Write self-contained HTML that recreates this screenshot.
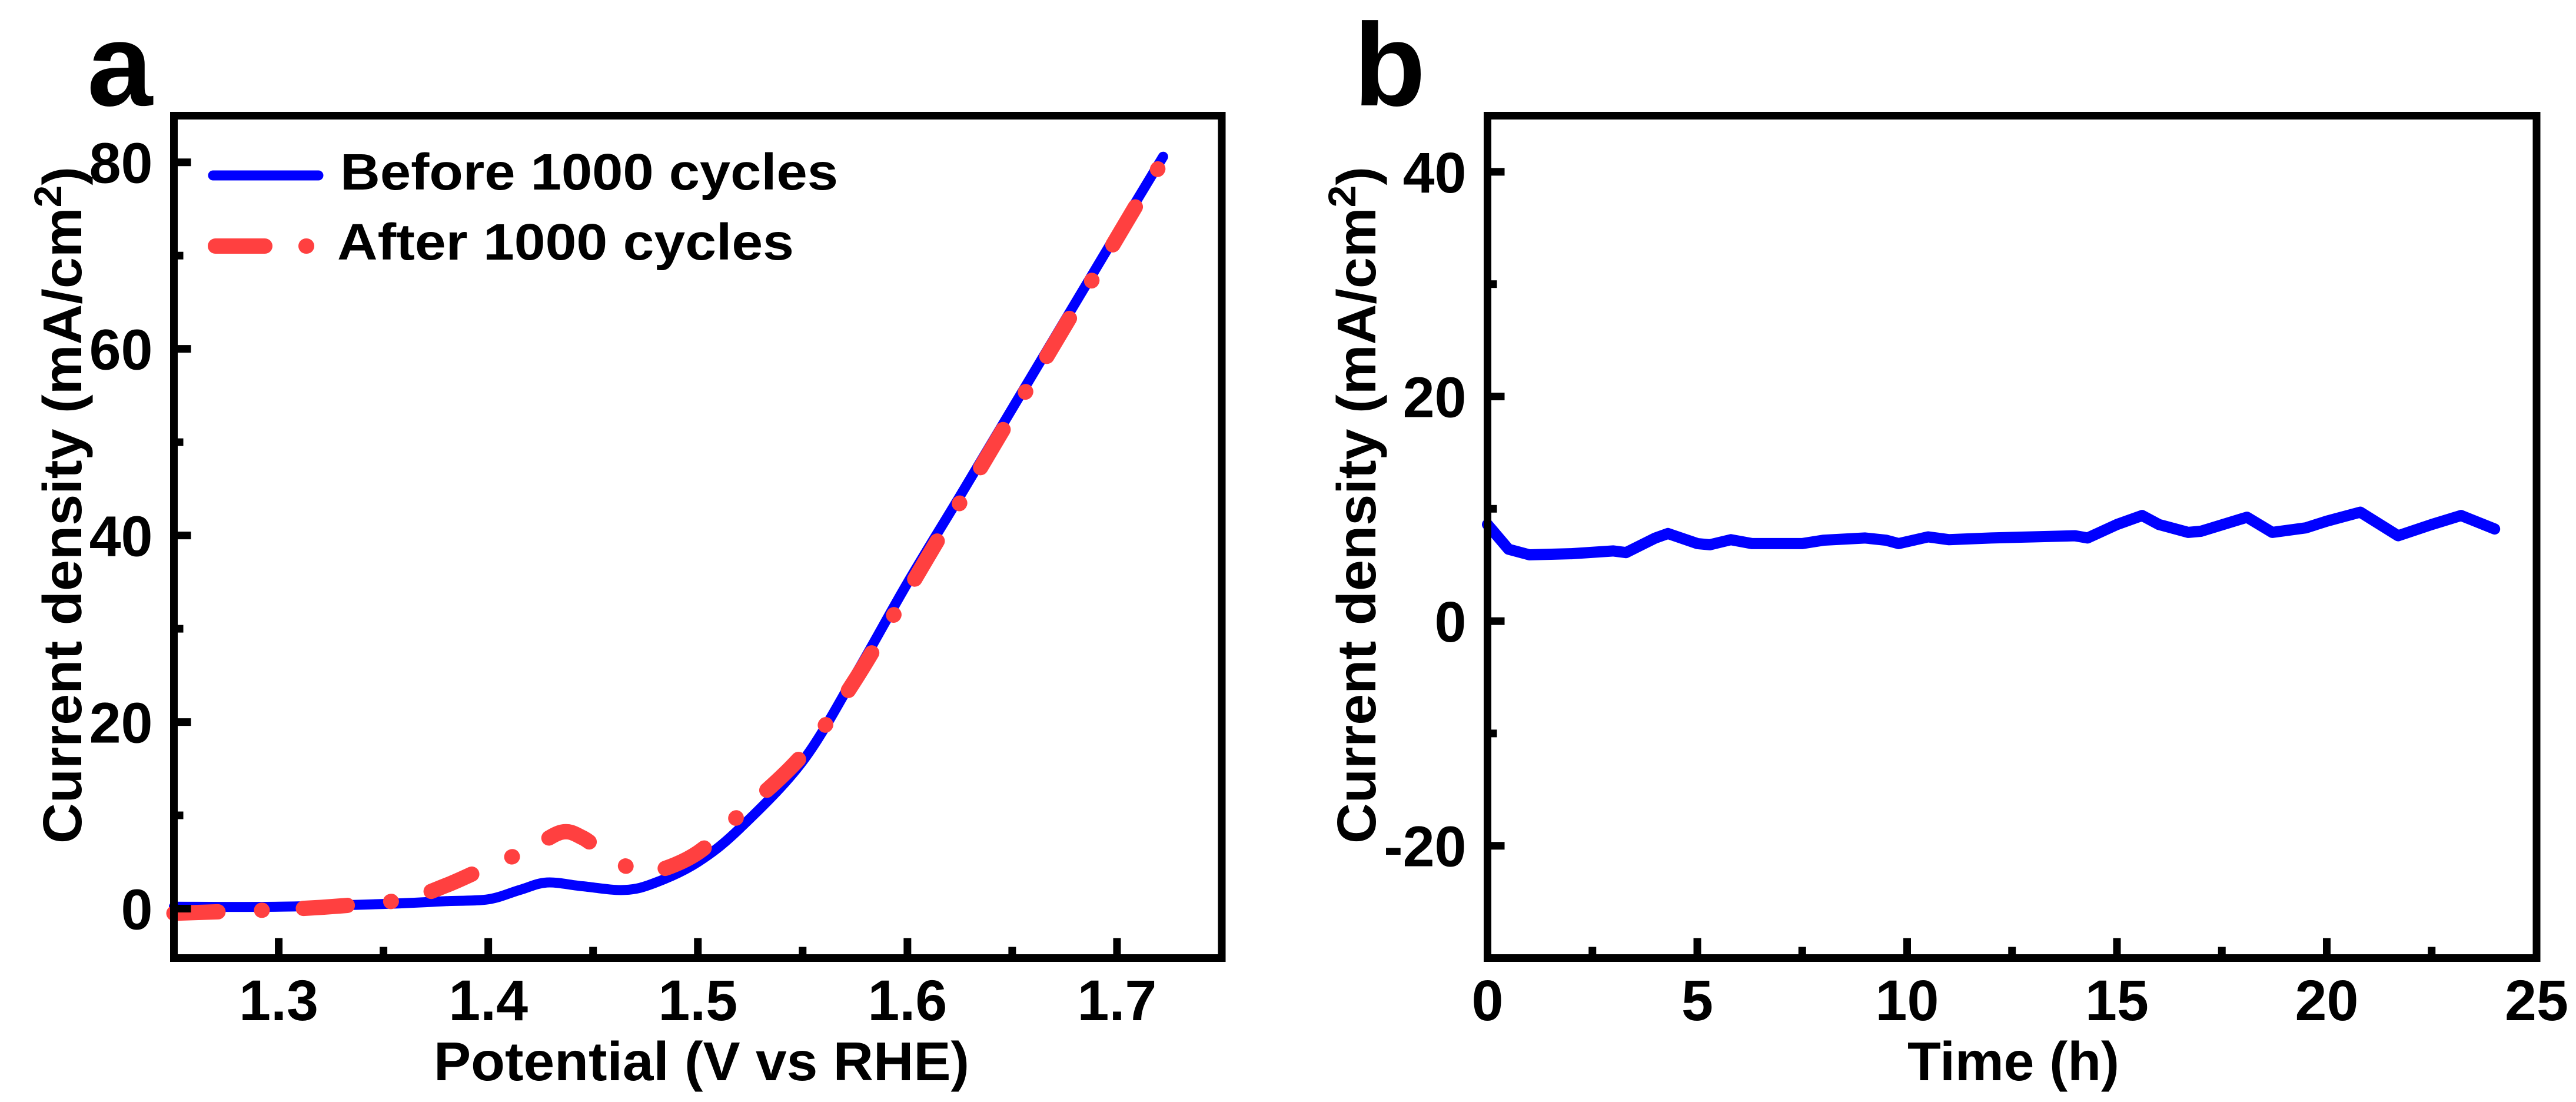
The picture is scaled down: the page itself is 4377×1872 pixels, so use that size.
<!DOCTYPE html>
<html><head><meta charset="utf-8"><style>
html,body{margin:0;padding:0;background:#fff;}
svg{display:block;font-family:"Liberation Sans",Arial,sans-serif;font-weight:bold;}
</style></head><body>
<svg id="chart" width="4377" height="1872" viewBox="0 0 4377 1872" xmlns="http://www.w3.org/2000/svg">
<g id="pa"></g>
<g id="pb"></g>
</svg>
<script>
// Panel a data
const aBeforeV = [1.25,1.30,1.35,1.38,1.40,1.415,1.428,1.445,1.465,1.48,1.50,1.52,1.55,1.575,1.60,1.625,1.65,1.675,1.70,1.722];
const aBeforeJ = [0.2,0.2,0.5,0.8,1.0,2.0,2.8,2.4,2.0,2.8,5.0,8.6,15.8,25.0,34.9,44.2,53.6,63.0,72.4,80.6];
const aAfterV = [1.25,1.30,1.33,1.36,1.38,1.40,1.42,1.435,1.445,1.455,1.47,1.48,1.50,1.52,1.55,1.575,1.60,1.625,1.65,1.675,1.70,1.72];
const aAfterJ = [-0.5,-0.1,0.3,1.0,2.5,4.5,6.4,8.2,7.6,6.0,4.1,4.0,6.0,10.1,16.5,24.5,34.0,43.5,53.0,62.4,71.9,79.5];
const aXTicks = [1.3,1.4,1.5,1.6,1.7];
const aXTickLabels = ["1.3","1.4","1.5","1.6","1.7"];
const aYTicks = [0,20,40,60,80];
const aYTickLabels = ["0","20","40","60","80"];
// Panel b data
const bT = [0,0.5,1,2,3,3.3,4,4.3,5,5.3,5.8,6.3,7.5,8,9,9.5,9.8,10.5,11,12,13,14,14.3,15,15.6,16,16.7,17,18.1,18.7,19.5,20,20.8,21.7,22.5,23.2,24];
const bJ = [8.6,6.4,5.9,6.0,6.25,6.1,7.4,7.8,6.9,6.8,7.25,6.9,6.9,7.2,7.4,7.2,6.9,7.5,7.25,7.4,7.5,7.6,7.4,8.6,9.4,8.6,7.9,8.0,9.25,7.9,8.3,8.9,9.7,7.6,8.6,9.4,8.2];
const bXTicks = [0,5,10,15,20,25];
const bXTickLabels = ["0","5","10","15","20","25"];
const bYTicks = [-20,0,20,40];
const bYTickLabels = ["-20","0","20","40"];

const NS="http://www.w3.org/2000/svg";
function mk(parent,tag,attrs,text){const e=document.createElementNS(NS,tag);for(const k in attrs)e.setAttribute(k,attrs[k]);if(text!==undefined)e.textContent=text;parent.appendChild(e);return e;}

function smoothPath(pts){
  let d="M"+pts[0][0].toFixed(1)+" "+pts[0][1].toFixed(1);
  for(let i=0;i<pts.length-1;i++){
    const p0=pts[Math.max(0,i-1)],p1=pts[i],p2=pts[i+1],p3=pts[Math.min(pts.length-1,i+2)];
    const c1x=p1[0]+(p2[0]-p0[0])/6,c1y=p1[1]+(p2[1]-p0[1])/6;
    const c2x=p2[0]-(p3[0]-p1[0])/6,c2y=p2[1]-(p3[1]-p1[1])/6;
    d+="C"+c1x.toFixed(1)+" "+c1y.toFixed(1)+" "+c2x.toFixed(1)+" "+c2y.toFixed(1)+" "+p2[0].toFixed(1)+" "+p2[1].toFixed(1);
  }
  return d;
}

function panel(g,cfg){
  const L=cfg.L,R=cfg.R,T=196.5,B=1627.5;
  const sx=v=>L+(v-cfg.x0)/(cfg.x1-cfg.x0)*(R-L);
  const sy=v=>B-(v-cfg.y0)/(cfg.y1-cfg.y0)*(B-T);
  cfg.series.forEach(s=>{
    const pts=s.x.map((v,i)=>[sx(v),sy(s.y[i])]);
    let d;
    if(s.smooth)d=smoothPath(pts);
    else{d="";pts.forEach((p,i)=>{d+=(i?"L":"M")+p[0].toFixed(1)+" "+p[1].toFixed(1);});}
    const p=mk(g,"path",{d:d,fill:"none",stroke:s.color,"stroke-width":s.w,"stroke-linecap":"round","stroke-linejoin":"round"});
    if(s.dash)p.setAttribute("stroke-dasharray",s.dash);
    
    
  });
  const f=mk(g,"rect",{x:L,y:T,width:R-L,height:B-T,fill:"none",stroke:"#000","stroke-width":13});
  
  
  cfg.xt.forEach((v,i)=>{
    const x=sx(v);
    const t=mk(g,"line",{x1:x,x2:x,y1:B,y2:B-34,stroke:"#000","stroke-width":13});
    
    
    const lb=mk(g,"text",{x:x,y:1733,"text-anchor":"middle","font-size":97},cfg.xl[i]);
    
    
    if(i<cfg.xt.length-1){
      const xm=sx((v+cfg.xt[i+1])/2);
      const m=mk(g,"line",{x1:xm,x2:xm,y1:B,y2:B-19,stroke:"#000","stroke-width":13});
      
      
    }
  });
  cfg.yt.forEach((v,i)=>{
    const y=sy(v);
    const t=mk(g,"line",{x1:L,x2:L+29,y1:y,y2:y,stroke:"#000","stroke-width":13});
    
    
    const lb=mk(g,"text",{x:L-36,y:y+35,"text-anchor":"end","font-size":97},cfg.yl[i]);
    
    
    if(i<cfg.yt.length-1){
      const ym=sy((v+cfg.yt[i+1])/2);
      const m=mk(g,"line",{x1:L,x2:L+16,y1:ym,y2:ym,stroke:"#000","stroke-width":13});
      
      
    }
  });
  const xt=mk(g,"text",{x:cfg.xtx,y:1835,"text-anchor":"middle","font-size":93,textLength:cfg.xtw,lengthAdjust:"spacingAndGlyphs"},cfg.xtitle);
  
  
  const yt=mk(g,"text",{transform:"translate("+(cfg.ytx+32)+",858) rotate(-90)","text-anchor":"middle","font-size":93,textLength:1150,lengthAdjust:"spacingAndGlyphs"});
  
  
  mk(yt,"tspan",{},"Current density (mA/cm");
  mk(yt,"tspan",{dy:-34,"font-size":66},"2");
  mk(yt,"tspan",{dy:34},")");
  const pl=mk(g,"text",{x:cfg.lx,y:179,"font-size":200},cfg.letter);
  
  
}

const pa=document.getElementById("pa");
panel(pa,{L:295.5,R:2076,x0:1.25,x1:1.75,y0:-5.3,y1:85,
  xt:aXTicks,xl:aXTickLabels,yt:aYTicks,yl:aYTickLabels,
  xtitle:"Potential (V vs RHE)",xtx:1192,xtw:910,ytx:106,lx:148,letter:"a",
  series:[
    {name:"before-1000-cycles-line",x:aBeforeV,y:aBeforeJ,color:"#0000ff",w:17,smooth:true},
    {name:"after-1000-cycles-line",x:aAfterV,y:aAfterJ,color:"#ff4040",w:26,dash:"75 74 1 70",smooth:true}
  ]});
const lg=mk(pa,"g",{});


const l1=mk(lg,"line",{x1:362,x2:541,y1:298,y2:298,stroke:"#0000ff","stroke-width":17,"stroke-linecap":"round"});


const t1=mk(lg,"text",{x:578,y:322,"font-size":87,textLength:846,lengthAdjust:"spacingAndGlyphs"},"Before 1000 cycles");


const l2=mk(lg,"path",{d:"M366 418 L450 418 M520 418 L521 418",stroke:"#ff4040","stroke-width":26,"stroke-linecap":"round"});


const t2=mk(lg,"text",{x:573,y:441,"font-size":87,textLength:776,lengthAdjust:"spacingAndGlyphs"},"After 1000 cycles");



const pb=document.getElementById("pb");
panel(pb,{L:2527.5,R:4310,x0:0,x1:25,y0:-30,y1:45,
  xt:bXTicks,xl:bXTickLabels,yt:bYTicks,yl:bYTickLabels,
  xtitle:"Time (h)",xtx:3421,xtw:360,ytx:2305,lx:2300,letter:"b",
  series:[{name:"stability-current-line",x:bT,y:bJ,color:"#0000ff",w:19,smooth:false}]});
</script>
</body></html>
